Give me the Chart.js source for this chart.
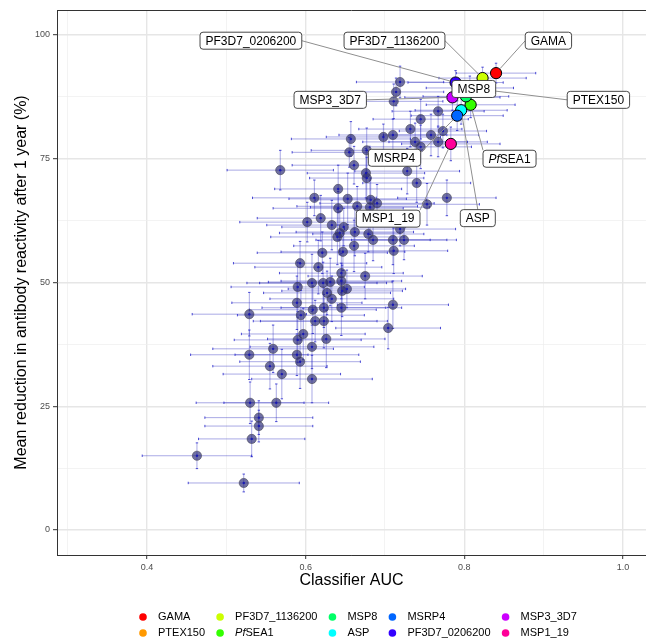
<!DOCTYPE html>
<html>
<head>
<meta charset="utf-8">
<title>Classifier AUC vs reduction in antibody reactivity</title>
<script src="https://cdn.jsdelivr.net/npm/chart.js@4.4.1/dist/chart.umd.min.js"></script>
<style>
  html, body { margin: 0; padding: 0; background: #fff; }
  #wrap { width: 646px; height: 639px; }
</style>
</head>
<body>
<div id="wrap"><canvas id="chart" width="646" height="639"></canvas></div>
<script>
/* =========================================================
   DATA
========================================================= */

// all other antigens: AUC, mean reduction (%), and half-widths of the error bars
const AUC = [
  0.719, 0.714, 0.711, 0.767, 0.745, 0.732, 0.773, 0.758, 0.767, 0.738,
  0.745, 0.710, 0.698, 0.657, 0.655, 0.677, 0.661, 0.676, 0.677, 0.568,
  0.728, 0.740, 0.641, 0.611, 0.653, 0.665, 0.641, 0.682, 0.690, 0.681,
  0.753, 0.778,
  0.602, 0.619, 0.633, 0.648, 0.643, 0.640, 0.662, 0.679, 0.685, 0.710,
  0.724, 0.719, 0.711, 0.661, 0.621, 0.647, 0.593, 0.616, 0.645, 0.675,
  0.608, 0.622, 0.631, 0.645, 0.590, 0.627, 0.646, 0.652, 0.633, 0.589,
  0.609, 0.623, 0.645, 0.529, 0.594, 0.612, 0.623, 0.710, 0.704,
  0.597, 0.590, 0.626, 0.608, 0.559, 0.529, 0.589, 0.593, 0.555, 0.570,
  0.608, 0.530, 0.563, 0.541, 0.541, 0.532, 0.463, 0.522
];
const REDUCTION = [
  90.5, 88.5, 86.6, 84.6, 83.0, 81.0, 80.6, 79.8, 78.4, 78.4,
  77.4, 79.8, 79.4, 79.0, 76.3, 76.7, 73.7, 72.1, 71.1, 72.7,
  72.5, 70.1, 68.9, 67.1, 66.9, 65.4, 65.0, 66.7, 66.0, 65.2,
  65.8, 67.1,
  62.2, 63.0, 61.6, 61.2, 60.0, 59.2, 60.2, 59.8, 58.6, 58.6,
  58.6, 60.8, 56.4, 57.4, 56.0, 56.2, 53.9, 53.1, 51.9, 51.3,
  49.9, 49.9, 50.1, 50.3, 49.1, 47.9, 48.3, 48.7, 46.7, 45.9,
  44.5, 44.9, 44.9, 43.6, 43.4, 42.2, 42.2, 45.5, 40.8,
  39.6, 38.4, 38.6, 37.0, 36.6, 35.4, 35.4, 34.0, 33.1, 31.5,
  30.5, 25.7, 25.7, 22.7, 21.0, 18.4, 15.0, 9.5
];
const AUC_ERR = [
  0.055, 0.060, 0.062, 0.058, 0.060, 0.065, 0.055, 0.060, 0.062, 0.066,
  0.064, 0.068, 0.072, 0.075, 0.072, 0.070, 0.078, 0.074, 0.072, 0.067,
  0.066, 0.068, 0.080, 0.078, 0.074, 0.076, 0.082, 0.070, 0.072, 0.075,
  0.066, 0.062,
  0.085, 0.080, 0.082, 0.078, 0.076, 0.084, 0.074, 0.070, 0.072, 0.068,
  0.066, 0.070, 0.068, 0.076, 0.082, 0.078, 0.084, 0.080, 0.078, 0.072,
  0.082, 0.080, 0.078, 0.076, 0.084, 0.080, 0.076, 0.074, 0.078, 0.082,
  0.080, 0.078, 0.076, 0.072, 0.080, 0.078, 0.080, 0.070, 0.066,
  0.078, 0.080, 0.074, 0.078, 0.076, 0.074, 0.078, 0.076, 0.072, 0.074,
  0.076, 0.068, 0.066, 0.068, 0.068, 0.067, 0.069, 0.070
];
const REDUCTION_ERR = [
  3.2, 2.8, 3.5, 3.0, 4.0, 3.6, 3.4, 4.2, 3.0, 3.8,
  4.4, 3.2, 2.6, 3.5, 3.0, 4.5, 3.8, 5.0, 4.2, 4.0,
  4.6, 3.9, 4.8, 3.6, 5.2, 4.0, 3.4, 4.4, 3.8, 5.5,
  4.2, 3.6,
  4.0, 4.6, 5.0, 3.8, 4.4, 5.6, 4.8, 3.6, 4.2, 5.0,
  4.0, 3.4, 4.6, 5.2, 4.2, 3.8, 4.4, 5.4, 4.0, 4.6,
  5.8, 4.2, 4.8, 3.6, 5.0, 4.4, 5.2, 3.8, 4.6, 5.4,
  4.8, 4.0, 5.6, 4.4, 5.0, 4.2, 5.4, 4.8, 4.2,
  5.2, 4.6, 5.8, 4.4, 4.8, 5.0, 4.2, 5.4, 4.6, 5.0,
  4.8, 4.2, 3.8, 3.4, 3.2, 3.6, 2.6, 1.8
];

// highlighted antigens (legend order)
const HL_NAMES = [
  "GAMA", "PTEX150", "PF3D7_1136200", "PfSEA1", "MSP8",
  "ASP", "MSRP4", "PF3D7_0206200", "MSP3_3D7", "MSP1_19"
];
const HL_AUC = [0.840, 0.807, 0.823, 0.808, 0.802, 0.796, 0.791, 0.789, 0.785, 0.783];
const HL_REDUCTION = [92.3, 89.3, 91.3, 85.9, 87.6, 84.8, 83.7, 90.4, 87.4, 78.0];
const HL_AUC_ERR = [0.050, 0.055, 0.055, 0.056, 0.054, 0.058, 0.058, 0.060, 0.060, 0.062];
const HL_REDUCTION_ERR = [2.0, 2.4, 2.2, 2.6, 2.4, 2.8, 3.0, 2.4, 2.6, 3.4];
const HL_COLORS = [
  "#FF0000", "#FF9900", "#CCFF00", "#33FF00", "#00FF66",
  "#00FFFF", "#0066FF", "#3300FF", "#CC00FF", "#FF0099"
];

// where the repelled labels ended up (data space) and which side of the box the segment leaves from
const LABEL_AUC = [0.906, 0.969, 0.712, 0.857, 0.812, 0.817, 0.712, 0.531, 0.631, 0.704];
const LABEL_REDUCTION = [98.85, 86.9, 98.85, 75.0, 89.1, 63.0, 75.2, 98.85, 86.9, 62.9];
const LABEL_ANCHOR = [[-1, 0], [-1, 0], [1, 0], [-1, -1], null, [0, -1], [1, -0.6], [1, 0], [1, 0], [1, -1]];

// axes
const X_MAJOR = [0.4, 0.6, 0.8, 1.0];
const X_LABELS = ["0.4", "0.6", "0.8", "1.0"];
const X_MINOR = [0.3, 0.5, 0.7, 0.9];
const Y_MAJOR = [0, 25, 50, 75, 100];
const Y_LABELS = ["0", "25", "50", "75", "100"];
const Y_MINOR = [12.5, 37.5, 62.5, 87.5];

/* =========================================================
   HELPERS
========================================================= */

const FONT = '"Liberation Sans", Arial, Helvetica, sans-serif';

// "PfSEA1" is written with an italic "Pf"
function nameParts(name) {
  return name.startsWith("Pf") ? [["Pf", "italic "], [name.slice(2), ""]] : [[name, ""]];
}

function nameWidth(ctx, name, size) {
  return nameParts(name).reduce((w, [t, st]) => {
    ctx.font = `${st}${size}px ${FONT}`;
    return w + ctx.measureText(t).width;
  }, 0);
}

function drawName(ctx, name, x, y, size) {
  let cx = x;
  nameParts(name).forEach(([t, st]) => {
    ctx.font = `${st}${size}px ${FONT}`;
    ctx.fillText(t, cx, y);
    cx += ctx.measureText(t).width;
  });
}

function tickSetter(major, minor) {
  return axis => {
    axis.ticks = major.concat(minor).sort((a, b) => a - b).map(v => ({ value: v }));
  };
}

/* =========================================================
   PLUGINS
========================================================= */

const errorBars = {
  id: "errorBars",
  beforeDatasetsDraw(chart) {
    const { ctx, chartArea: a, scales: { x, y } } = chart;
    ctx.save();
    ctx.beginPath();
    ctx.rect(a.left, a.top, a.width, a.height);
    ctx.clip();

    const draw = (xs, ys, xe, ye) => {
      xs.forEach((v, i) => {
        const px = x.getPixelForValue(v);
        const py = y.getPixelForValue(ys[i]);
        const x0 = x.getPixelForValue(v - xe[i]);
        const x1 = x.getPixelForValue(v + xe[i]);
        const y0 = y.getPixelForValue(ys[i] - ye[i]);
        const y1 = y.getPixelForValue(ys[i] + ye[i]);

        ctx.lineWidth = 1;
        ctx.strokeStyle = "rgba(40,40,190,0.4)";
        ctx.beginPath();
        ctx.moveTo(x0, py); ctx.lineTo(x1, py);
        ctx.moveTo(px, y0); ctx.lineTo(px, y1);
        ctx.stroke();

        ctx.strokeStyle = "rgba(20,20,200,0.75)";
        ctx.beginPath();
        ctx.moveTo(x0, py - 1.2); ctx.lineTo(x0, py + 1.2);
        ctx.moveTo(x1, py - 1.2); ctx.lineTo(x1, py + 1.2);
        ctx.moveTo(px - 1.2, y0); ctx.lineTo(px + 1.2, y0);
        ctx.moveTo(px - 1.2, y1); ctx.lineTo(px + 1.2, y1);
        ctx.stroke();
      });
    };

    draw(AUC, REDUCTION, AUC_ERR, REDUCTION_ERR);
    draw(HL_AUC, HL_REDUCTION, HL_AUC_ERR, HL_REDUCTION_ERR);
    ctx.restore();
  }
};

const repelLabels = {
  id: "repelLabels",
  afterDatasetsDraw(chart) {
    const { ctx, scales: { x, y } } = chart;
    ctx.save();

    const boxes = HL_NAMES.map((name, i) => {
      const tw = nameWidth(ctx, name, 12);
      return {
        name, tw,
        cx: x.getPixelForValue(LABEL_AUC[i]),
        cy: y.getPixelForValue(LABEL_REDUCTION[i]),
        w: tw + 11, h: 17,
        px: x.getPixelForValue(HL_AUC[i]),
        py: y.getPixelForValue(HL_REDUCTION[i]),
        anchor: LABEL_ANCHOR[i]
      };
    });

    // segments first, boxes on top
    ctx.strokeStyle = "#8f8f8f";
    ctx.lineWidth = 1;
    boxes.forEach(b => {
      if (!b.anchor) return;
      const sx = b.cx + b.anchor[0] * b.w / 2;
      const sy = b.cy + b.anchor[1] * b.h / 2;
      const dx = b.px - sx, dy = b.py - sy;
      const len = Math.hypot(dx, dy);
      const t = Math.max(0, 1 - 6 / len);
      ctx.beginPath();
      ctx.moveTo(sx, sy);
      ctx.lineTo(sx + dx * t, sy + dy * t);
      ctx.stroke();
    });

    boxes.forEach(b => {
      ctx.beginPath();
      ctx.roundRect(b.cx - b.w / 2, b.cy - b.h / 2, b.w, b.h, 3);
      ctx.fillStyle = "#fff";
      ctx.fill();
      ctx.strokeStyle = "#333";
      ctx.lineWidth = 0.9;
      ctx.stroke();
      ctx.fillStyle = "#000";
      ctx.textBaseline = "middle";
      ctx.textAlign = "left";
      drawName(ctx, b.name, b.cx - b.tw / 2, b.cy + 0.5, 12);
    });

    ctx.restore();
  }
};

// ggplot-style panel top line + two-row legend under the plot
const panelAndLegend = {
  id: "panelAndLegend",
  afterDraw(chart) {
    const { ctx, chartArea: a } = chart;
    ctx.save();
    ctx.strokeStyle = "#333";
    ctx.lineWidth = 1;
    ctx.beginPath();
    ctx.moveTo(a.left, a.top + 0.5);
    ctx.lineTo(a.right, a.top + 0.5);
    ctx.stroke();

    const rows = 2, size = 11;
    const rowY = [617, 633];
    let colX = 143;
    ctx.textBaseline = "middle";
    ctx.textAlign = "left";
    for (let c = 0; c * rows < HL_NAMES.length; c++) {
      let maxW = 0;
      for (let r = 0; r < rows; r++) {
        const i = c * rows + r;
        if (i >= HL_NAMES.length) break;
        ctx.fillStyle = HL_COLORS[i];
        ctx.beginPath();
        ctx.arc(colX, rowY[r], 3.8, 0, Math.PI * 2);
        ctx.fill();
        ctx.fillStyle = "#000";
        drawName(ctx, HL_NAMES[i], colX + 15, rowY[r], size);
        maxW = Math.max(maxW, nameWidth(ctx, HL_NAMES[i], size));
      }
      colX += 15 + maxW + 15;
    }
    ctx.restore();
  }
};

/* =========================================================
   CHART
========================================================= */

const isMajor = (list, v) => list.some(m => Math.abs(m - v) < 1e-9);

new Chart(document.getElementById("chart"), {
  type: "scatter",
  data: {
    datasets: [
      {
        label: "highlighted",
        data: HL_AUC.map((v, i) => ({ x: v, y: HL_REDUCTION[i] })),
        backgroundColor: HL_COLORS,
        borderColor: "#000",
        borderWidth: 1,
        pointRadius: 5.6,
        order: 0
      },
      {
        label: "centres",
        data: AUC.map((v, i) => ({ x: v, y: REDUCTION[i] })),
        backgroundColor: "#1a1ab4",
        borderWidth: 0,
        pointRadius: 1.2,
        order: 1
      },
      {
        label: "antigens",
        data: AUC.map((v, i) => ({ x: v, y: REDUCTION[i] })),
        backgroundColor: "rgba(38,38,118,0.66)",
        borderColor: "rgba(70,70,80,0.6)",
        borderWidth: 1,
        pointRadius: 4.6,
        order: 2
      }
    ]
  },
  options: {
    responsive: false,
    animation: false,
    events: [],
    layout: { autoPadding: false, padding: { left: 0, right: 0, top: 10, bottom: 44 } },
    plugins: {
      legend: { display: false },
      tooltip: { enabled: false }
    },
    scales: {
      x: {
        type: "linear",
        min: 0.2866,
        max: 1.029,
        afterBuildTicks: tickSetter(X_MAJOR, X_MINOR),
        afterFit: s => { s.height = 40; s.paddingLeft = 0; s.paddingRight = 0; },
        ticks: {
          autoSkip: false,
          maxRotation: 0,
          padding: 3,
          color: "#4d4d4d",
          font: { family: FONT, size: 9 },
          callback: v => {
            const k = X_MAJOR.findIndex(m => Math.abs(m - v) < 1e-9);
            return k >= 0 ? X_LABELS[k] : "";
          }
        },
        grid: {
          color: c => (c.tick && isMajor(X_MAJOR, c.tick.value)) ? "#e6e6e6" : "#eeeeee",
          lineWidth: c => (c.tick && isMajor(X_MAJOR, c.tick.value)) ? 1.4 : 0.7,
          tickColor: c => (c.tick && isMajor(X_MAJOR, c.tick.value)) ? "#333" : "rgba(0,0,0,0)",
          tickLength: 4,
          tickWidth: 1
        },
        border: { display: true, color: "#333", width: 1 },
        title: {
          display: true,
          text: "Classifier AUC",
          color: "#000",
          font: { family: FONT, size: 16 },
          padding: { top: 0, bottom: 5 }
        }
      },
      y: {
        type: "linear",
        min: -5.05,
        max: 105.05,
        afterBuildTicks: tickSetter(Y_MAJOR, Y_MINOR),
        afterFit: s => { s.width = 57; s.paddingTop = 0; s.paddingBottom = 0; },
        ticks: {
          autoSkip: false,
          padding: 3,
          color: "#4d4d4d",
          font: { family: FONT, size: 9 },
          callback: v => {
            const k = Y_MAJOR.findIndex(m => Math.abs(m - v) < 1e-9);
            return k >= 0 ? Y_LABELS[k] : "";
          }
        },
        grid: {
          color: c => (c.tick && isMajor(Y_MAJOR, c.tick.value)) ? "#e6e6e6" : "#eeeeee",
          lineWidth: c => (c.tick && isMajor(Y_MAJOR, c.tick.value)) ? 1.4 : 0.7,
          tickColor: c => (c.tick && isMajor(Y_MAJOR, c.tick.value)) ? "#333" : "rgba(0,0,0,0)",
          tickLength: 4,
          tickWidth: 1
        },
        border: { display: true, color: "#333", width: 1 },
        title: {
          display: true,
          text: "Mean reduction in antibody reactivity after 1 year (%)",
          color: "#000",
          font: { family: FONT, size: 16 },
          padding: { top: 12, bottom: 0 }
        }
      }
    }
  },
  plugins: [errorBars, repelLabels, panelAndLegend]
});
</script>
</body>
</html>
